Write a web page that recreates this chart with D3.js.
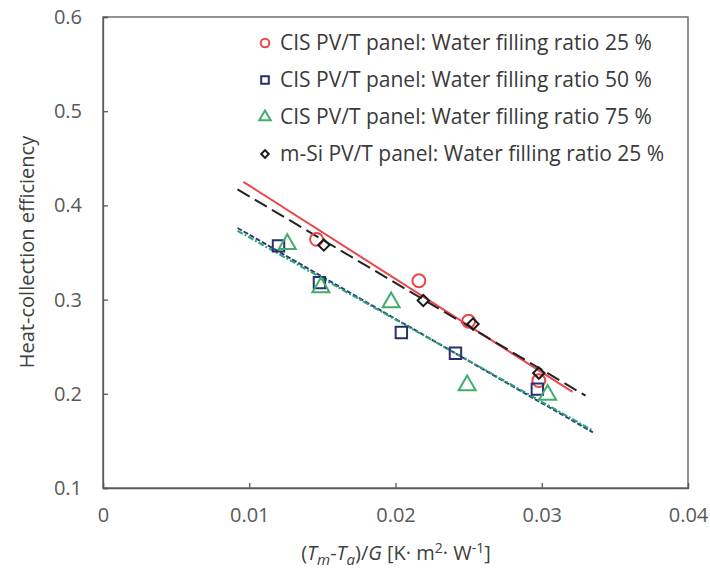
<!DOCTYPE html>
<html>
<head>
<meta charset="utf-8">
<script src="https://cdn.jsdelivr.net/npm/d3@7"></script>
<style>
  body { margin: 0; background: #fff; }
  svg { font-family: "Open Sans", sans-serif; }
  .tick text { fill: #595959; font-size: 20px; }
  .axisLabel { fill: #404040; font-size: 20px; }
  .legend text { fill: #3a3a3a; font-size: 21px; }
</style>
</head>
<body>
<svg id="chart"></svg>
<script>
const xTicks = [0, 0.01, 0.02, 0.03, 0.04];
const yTicks = [0.1, 0.2, 0.3, 0.4, 0.5, 0.6];

// measured points [x, efficiency]
const cis25 = [[0.0146, 0.364], [0.0216, 0.320], [0.0250, 0.277], [0.0298, 0.214]];
const cis50 = [[0.0120, 0.357], [0.0148, 0.318], [0.0204, 0.265], [0.0241, 0.243], [0.0297, 0.205]];
const cis75 = [[0.0126, 0.359], [0.0149, 0.313], [0.0197, 0.297], [0.0249, 0.209], [0.0304, 0.199]];
const msi25 = [[0.0151, 0.358], [0.0219, 0.299], [0.0253, 0.274], [0.0298, 0.222]];

// linear fits, end points
const fitCis25 = [[0.0096, 0.425], [0.0321, 0.202]];
const fitCis50 = [[0.0092, 0.376], [0.0335, 0.159]];
const fitCis75 = [[0.0092, 0.373], [0.0335, 0.161]];
const fitMsi25 = [[0.0092, 0.417], [0.0330, 0.198]];

const legendLabels = [
  "CIS PV/T panel: Water filling ratio 25 %",
  "CIS PV/T panel: Water filling ratio 50 %",
  "CIS PV/T panel: Water filling ratio 75 %",
  "m-Si PV/T panel: Water filling ratio 25 %"
];

const width = 710;
const height = 571;
const margin = { top: 17, right: 22, bottom: 83, left: 103 };

const series = [
  { name: legendLabels[0], data: cis25, fit: fitCis25, color: "#e8474c", symbol: d3.symbolCircle, size: 130, rot: 0, dash: null, lineColor: "#e8474c" },
  { name: legendLabels[1], data: cis50, fit: fitCis50, color: "#2a2f6e", symbol: d3.symbolSquare, size: 130, rot: 0, dash: "5,2", lineColor: "#2a3f7a" },
  { name: legendLabels[2], data: cis75, fit: fitCis75, color: "#3fae6a", symbol: d3.symbolTriangle, size: 125, rot: 0, dash: "6,2,2,2", lineColor: "#2fa27a" },
  { name: legendLabels[3], data: msi25, fit: fitMsi25, color: "#1a1a1a", symbol: d3.symbolSquare, size: 64, rot: 45, dash: "14,6", lineColor: "#222" }
];

const svg = d3.select("#chart").attr("width", width).attr("height", height);

const xScale = d3.scaleLinear().domain([0, 0.04]).range([margin.left, width - margin.right]);
const yScale = d3.scaleLinear().domain([0.1, 0.6]).range([height - margin.bottom, margin.top]);

// plot frame
svg.append("rect")
  .attr("x", margin.left)
  .attr("y", margin.top)
  .attr("width", width - margin.left - margin.right)
  .attr("height", height - margin.top - margin.bottom)
  .attr("fill", "none")
  .attr("stroke", "#595959")
  .attr("stroke-width", 1.3);

const xAxis = svg.append("g")
  .attr("transform", `translate(0, ${height - margin.bottom})`)
  .call(d3.axisBottom(xScale).tickValues(xTicks).tickSize(-5).tickPadding(20)
    .tickFormat((d) => (d === 0 ? "0" : d3.format(".2f")(d))));

const yAxis = svg.append("g")
  .attr("transform", `translate(${margin.left}, 0)`)
  .call(d3.axisLeft(yScale).tickValues(yTicks).tickSize(-5).tickPadding(21)
    .tickFormat(d3.format(".1f")));

[xAxis, yAxis].forEach((g) => {
  g.attr("font-family", null).attr("font-size", null);
  g.select(".domain").attr("stroke", "#595959").attr("stroke-width", 1.3);
  g.selectAll(".tick line").attr("stroke", "#595959").attr("stroke-width", 1.3);
});

// trend lines
const line = d3.line().x((d) => xScale(d[0])).y((d) => yScale(d[1]));
svg.append("g")
  .selectAll("path")
  .data(series)
  .join("path")
  .attr("d", (d) => line(d.fit))
  .attr("fill", "none")
  .attr("stroke", (d) => d.lineColor)
  .attr("stroke-width", 2)
  .attr("stroke-dasharray", (d) => d.dash);

// markers
svg.append("g")
  .selectAll("g")
  .data(series)
  .join("g")
  .each(function (s) {
    d3.select(this)
      .selectAll("path")
      .data(s.data)
      .join("path")
      .attr("d", d3.symbol().type(s.symbol).size(s.size))
      .attr("transform", (d) => `translate(${xScale(d[0])},${yScale(d[1])}) rotate(${s.rot})`)
      .attr("fill", "none")
      .attr("stroke", s.color)
      .attr("stroke-width", 2);
  });

// legend
const legend = svg.append("g").attr("class", "legend");
const rows = legend.selectAll("g")
  .data(series)
  .join("g")
  .attr("transform", (d, i) => `translate(265, ${43 + i * 37})`);
rows.append("path")
  .attr("d", (d) => d3.symbol().type(d.symbol).size(d.size * 0.45)())
  .attr("transform", (d) => `rotate(${d.rot})`)
  .attr("fill", "none")
  .attr("stroke", (d) => d.color)
  .attr("stroke-width", 2);
rows.append("text")
  .attr("x", 15)
  .attr("dy", "0.35em")
  .text((d) => d.name);

// axis titles
const xLabel = svg.append("text")
  .attr("class", "axisLabel")
  .attr("text-anchor", "middle")
  .attr("x", 396)
  .attr("y", 560);
xLabel.append("tspan").text("(");
xLabel.append("tspan").attr("font-style", "italic").text("T");
xLabel.append("tspan").attr("font-style", "italic").attr("font-size", "15px").attr("dy", 5).text("m");
xLabel.append("tspan").attr("dy", -5).text("-");
xLabel.append("tspan").attr("font-style", "italic").text("T");
xLabel.append("tspan").attr("font-style", "italic").attr("font-size", "15px").attr("dy", 5).text("a");
xLabel.append("tspan").attr("dy", -5).text(")/");
xLabel.append("tspan").attr("font-style", "italic").text("G");
xLabel.append("tspan").text(" [K· m");
xLabel.append("tspan").attr("font-size", "14px").attr("dy", -7).text("2");
xLabel.append("tspan").attr("dy", 7).text("· W");
xLabel.append("tspan").attr("font-size", "14px").attr("dy", -7).text("-1");
xLabel.append("tspan").attr("dy", 7).text("]");

svg.append("text")
  .attr("class", "axisLabel")
  .attr("text-anchor", "middle")
  .attr("transform", `translate(34, 252) rotate(-90)`)
  .text("Heat-collection efficiency");
</script>
</body>
</html>
